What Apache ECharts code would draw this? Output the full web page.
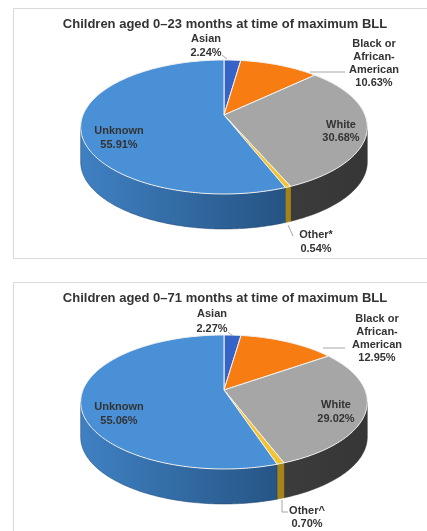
<!DOCTYPE html>
<html><head><meta charset="utf-8">
<script src="https://cdn.jsdelivr.net/npm/echarts@6/dist/echarts.min.js"></script>
<style>html,body{margin:0;padding:0;background:#fff}#c{width:427px;height:531px}</style>
</head><body><div id="c"></div>
<script>
// ---- data ----
const categories023 = ['Asian', 'Black or\nAfrican-\nAmerican', 'White', 'Other*', 'Unknown'];
const values023 = [2.24, 10.63, 30.68, 0.54, 55.91];
const categories071 = ['Asian', 'Black or\nAfrican-\nAmerican', 'White', 'Other^', 'Unknown'];
const values071 = [2.27, 12.95, 29.02, 0.70, 55.06];
const titles = ['Children aged 0\u201323 months at time of maximum BLL', 'Children aged 0\u201371 months at time of maximum BLL'];

// ---- styles / layout ----
const FONT = "'Liberation Sans', Arial, sans-serif";
const topColors = ['#3563c8', '#f77c12', '#a6a6a6', '#f4c430', '#4a90d6'];
const wallColors = [['#2a4f9e', '#203f80'], ['#c0600c', '#a04e08'], ['#4a4a4a', '#363636'], ['#c09a1c', '#9c7a12'], ['#3f80c2', '#1b426a']];
const geom = { rx: 141, ry: 64.85, p: 0.179, depth: 35 };
const pieLayouts = [
  { cx: 224, cy: 115, titleY: 24, box: [13.5, 8.5, 440, 250] },
  { cx: 224, cy: 390, titleY: 298, box: [13.5, 282.5, 440, 260] }
];
const labelOffsets = [
  [[-18, -69, 14], [150, -52, 13], [117, 16, 13], [92, 127, 14], [-105, 23, 14]],
  [[-12, -69, 15], [153, -52, 13], [112, 22, 14], [83, 127, 13], [-105, 24, 14]]
];
const leaderOffsets = [
  [[[-2, -60], [3, -56]], [[86, -43], [121, -43]], null, [[64, 110], [69, 121]], null],
  [[[4, -58], [9, -54]], [[99, -42], [121, -42]], null, [[58, 110], [58, 122], [64, 122]], null]
];

function proj(cx, cy, t, dy) {
  const u = Math.sin(t), v = -Math.cos(t);
  const w = 1 - geom.p * v;
  return [cx + geom.rx * u / w, cy + geom.ry * v / w + (dy || 0)];
}
function arc(cx, cy, t0, t1, dy) {
  const n = Math.max(2, Math.ceil((t1 - t0) / (Math.PI / 180)));
  const pts = [];
  for (let i = 0; i <= n; i++) pts.push(proj(cx, cy, t0 + (t1 - t0) * i / n, dy));
  return pts;
}

function makeSeries(pieIdx, values, cats) {
  const L = pieLayouts[pieIdx];
  const total = values.reduce((a, b) => a + b, 0);
  const cum = [0];
  values.forEach((v, i) => cum.push(cum[i] + v));
  const tS = Math.acos(-geom.p), tE = 2 * Math.PI - tS;
  return {
    type: 'custom',
    coordinateSystem: 'none',
    silent: true,
    data: values.map((v, i) => [v, i]),
    renderItem: function (params, api) {
      const i = params.dataIndex;
      const v = api.value(0);
      const t0 = cum[i] / total * 2 * Math.PI;
      const t1 = t0 + v / total * 2 * Math.PI;
      const children = [];
      // side wall
      const a = Math.max(t0, tS), b = Math.min(t1, tE);
      if (b > a) {
        const top = arc(L.cx, L.cy, a, b, 0);
        const bot = arc(L.cx, L.cy, a, b, geom.depth).reverse();
        children.push({
          type: 'polygon', z2: 1,
          shape: { points: top.concat(bot) },
          style: {
            fill: new echarts.graphic.LinearGradient(L.cx - geom.rx, 0, L.cx + geom.rx, 0, [
              { offset: 0, color: wallColors[i][0] }, { offset: 1, color: wallColors[i][1] }], true),
            stroke: wallColors[i][1], lineWidth: 0.5
          }
        });
      }
      // top face
      const pts = [[L.cx, L.cy]].concat(arc(L.cx, L.cy, t0, t1, 0));
      children.push({
        type: 'polygon', z2: 10,
        shape: { points: pts },
        style: { fill: topColors[i], stroke: '#f2f2f2', lineWidth: 1, lineJoin: 'round' }
      });
      // leader
      const ld = leaderOffsets[pieIdx][i];
      if (ld) {
        children.push({
          type: 'polyline', z2: 15,
          shape: { points: ld.map(o => [L.cx + o[0], L.cy + o[1]]) },
          style: { stroke: '#a6a6a6', lineWidth: 1, fill: null }
        });
      }
      // label
      const lo = labelOffsets[pieIdx][i];
      children.push({
        type: 'text', z2: 20,
        x: L.cx + lo[0], y: L.cy + lo[1],
        style: {
          text: cats[i] + '\n' + v.toFixed(2) + '%',
          fill: '#333', fontFamily: FONT, fontSize: 11, fontWeight: 'bold',
          align: 'center', verticalAlign: 'middle', lineHeight: lo[2]
        }
      });
      return { type: 'group', children: children };
    }
  };
}

const chart = echarts.init(document.getElementById('c'), null, { renderer: 'canvas' });
const graphics = [];
pieLayouts.forEach((L, k) => {
  graphics.push({ type: 'rect', z: -1, shape: { x: L.box[0], y: L.box[1], width: L.box[2], height: L.box[3] },
    style: { fill: 'none', stroke: '#d9d9d9', lineWidth: 1 } });
  graphics.push({ type: 'text', x: 225, y: L.titleY,
    style: { text: titles[k], fill: '#333', fontFamily: FONT, fontSize: 13, fontWeight: 'bold',
      align: 'center', verticalAlign: 'middle' } });
});
chart.setOption({
  animation: false,
  backgroundColor: '#fff',
  graphic: graphics,
  series: [makeSeries(0, values023, categories023), makeSeries(1, values071, categories071)]
});
</script>
</body></html>
